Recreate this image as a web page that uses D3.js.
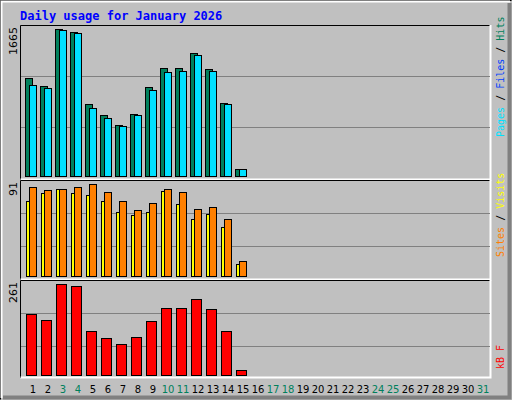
<!DOCTYPE html>
<html><head><meta charset="utf-8">
<script src="https://cdn.jsdelivr.net/npm/d3@7"></script>
<style>body{margin:0}svg{display:block}</style>
</head><body>
<script>
//daily values (days 1..15, rest of month empty)
var days = d3.range(1, 32);
var weekend = [3, 4, 10, 11, 17, 18, 24, 25, 31];
var hits  = [1107, 1016, 1665, 1634, 812, 687, 574, 699, 1005, 1220, 1220, 1390, 1208, 823, 76];
var files = [1027, 993, 1650, 1616, 767, 654, 563, 687, 971, 1175, 1186, 1367, 1186, 812, 76];
var pages = [1027, 993, 1650, 1616, 767, 654, 563, 687, 971, 1175, 1186, 1367, 1186, 812, 76];
var sites  = [88, 85, 86, 88, 91, 83, 74, 65, 72, 86, 83, 66, 68, 56, 15];
var visits = [74, 82, 86, 82, 80, 74, 63, 60, 63, 84, 71, 56, 61, 48, 12];
var kbytes = [175, 158, 261, 255, 126, 106, 89, 109, 155, 192, 192, 218, 189, 126, 14];

var W = 512, H = 400;
var svg = d3.select("body").append("svg").attr("width", W).attr("height", H);
svg.append("rect").attr("width", W).attr("height", H).attr("fill", "#c0c0c0");
//bevelled frame
svg.append("path").attr("d", "M0.5,399.5V0.5H511.5").attr("stroke", "#000").attr("fill", "none");
svg.append("path").attr("d", "M1.5,398V1.5H510").attr("stroke", "#fff").attr("stroke-width", 2).attr("fill", "none");
svg.append("path").attr("d", "M3,397.5H509.5V3").attr("stroke", "#808080").attr("stroke-width", 4).attr("fill", "none");

svg.append("text").attr("x", 20).attr("y", 20).text("Daily usage for January 2026")
  .attr("font-family", "DejaVu Sans Mono").attr("font-weight", "bold").attr("font-size", 12).attr("fill", "#0000ff");

var x = d3.scaleLinear().domain([1, 2]).range([20, 35]); //slot left edge

function panel(y0, y1, base, top, max, grids) {
  svg.append("path").attr("d", "M20.5," + y1 + "V" + (y0 + 0.5) + "H490").attr("stroke", "#000").attr("fill", "none");
  svg.append("path").attr("d", "M20.5," + (y1 - 0.5) + "H490.5V" + y0).attr("stroke", "#fff").attr("stroke-width", 2).attr("fill", "none");
  var y = d3.scaleLinear().domain([0, max]).range([base, top]);
  grids.forEach(function(g) {
    svg.append("line").attr("x1", 21).attr("x2", 490).attr("y1", g + 0.5).attr("y2", g + 0.5).attr("stroke", "#808080");
  });
  svg.append("text").attr("transform", "translate(17," + (top - 2) + ") rotate(-90)")
    .attr("text-anchor", "end").attr("font-family", "DejaVu Sans").attr("font-size", 11).text(max);
  return y;
}

function bars(y, data, off, w, color) {
  svg.append("g").selectAll("rect").data(data).join("rect")
    .attr("x", function(d, i) { return x(i + 1) + off + 0.5; })
    .attr("y", function(d) { return Math.round(y(d)) + 0.5; })
    .attr("width", w)
    .attr("height", function(d) { return y(0) - Math.round(y(d)); })
    .attr("fill", color).attr("stroke", "#000");
}

var y1 = panel(25, 180, 176, 29, 1665, [76, 127]);
bars(y1, hits, 5, 7, "#00805c");
bars(y1, files, 9, 7, "#0040ff");
bars(y1, pages, 9, 7, "#00e0ff");

var y2 = panel(180, 280, 276, 184, 91, [213, 246]);
bars(y2, visits, 6, 7, "#ffff00");
bars(y2, sites, 9, 7, "#ff8000");

var y3 = panel(280, 378, 375, 284, 261, [313, 346]);
bars(y3, kbytes, 6, 10, "#ff0000");

svg.append("g").selectAll("text").data(days).join("text")
  .attr("x", function(d) { return x(d) + 13; })
  .attr("y", 393).attr("text-anchor", "middle")
  .attr("font-family", "DejaVu Sans").attr("font-size", 10)
  .attr("fill", function(d) { return weekend.indexOf(d) >= 0 ? "#00805c" : "#000"; })
  .text(function(d) { return d; });

function legend(yBottom, parts) {
  var t = svg.append("text").attr("transform", "translate(504," + yBottom + ") rotate(-90)")
    .attr("font-family", "DejaVu Sans Mono").attr("font-size", 10);
  parts.forEach(function(p) { t.append("tspan").attr("fill", p[1]).text(p[0]); });
}
legend(137, [["Pages", "#00e0ff"], [" / ", "#000"], ["Files", "#0040ff"], [" / ", "#000"], ["Hits", "#00805c"]]);
legend(257, [["Sites", "#ff8000"], [" / ", "#000"], ["Visits", "#ffff00"]]);
legend(369, [["kB F", "#ff0000"]]);
</script>
</body></html>
